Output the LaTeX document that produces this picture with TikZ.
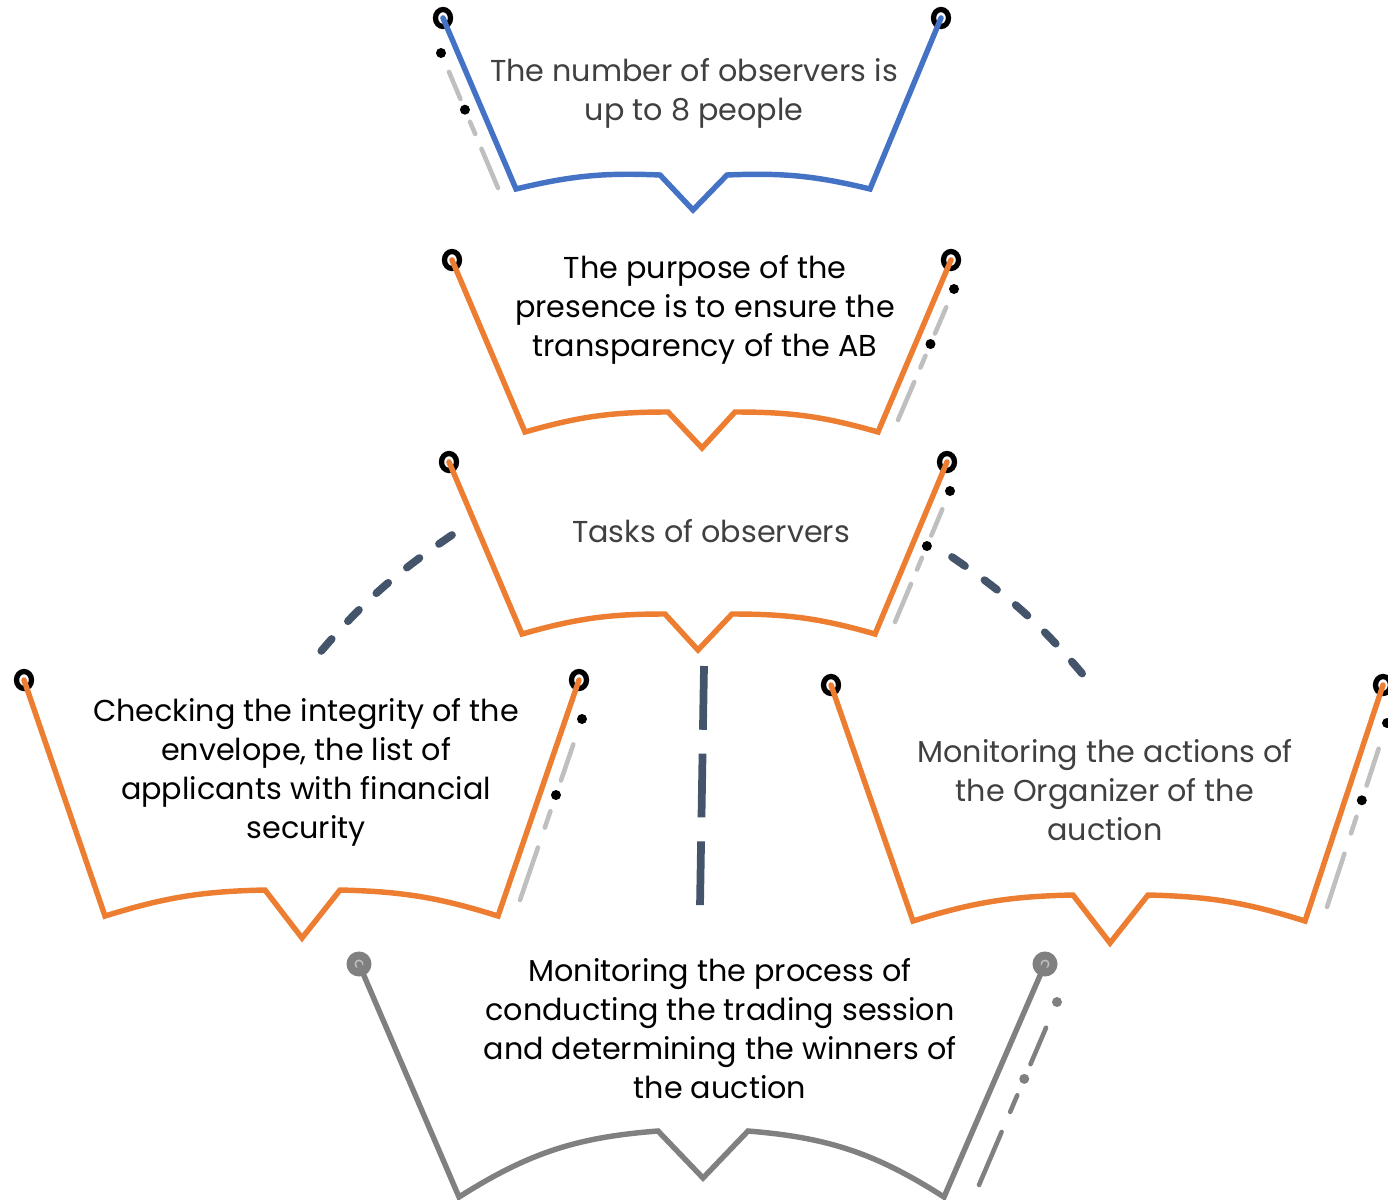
\documentclass[tikz,border=0pt]{standalone}
\usepackage{fontspec}
\setmainfont{Poppins}
\usetikzlibrary{calc}

\definecolor{bluebox}{HTML}{4472C4}
\definecolor{orangebox}{HTML}{ED7D31}
\definecolor{graybox}{HTML}{808080}
\definecolor{markgray}{HTML}{BFBFBF}
\definecolor{slate}{HTML}{44546A}
\definecolor{darktext}{HTML}{404040}

% dot, dash, dot, short dash, long dash beside one side of a box
\newcommand{\sidemarks}[4]{%
  \fill[#3] (#1) circle (5);
  \fill[#3] ($(#1)!0.42!(#2)$) circle (5);
  \draw[marks,#4] ($(#1)!0.14!(#2)$) -- ($(#1)!0.34!(#2)$);
  \draw[marks,#4] ($(#1)!0.51!(#2)$) -- ($(#1)!0.60!(#2)$);
  \draw[marks,#4] ($(#1)!0.71!(#2)$) -- (#2);
}

\begin{document}
\begin{tikzpicture}[
  x=0.02cm,y=-0.02cm,
  line/.style={line width=3.1pt,line cap=round},
  ring/.style={line width=3pt,draw=black,fill=white},
  marks/.style={line width=2.6pt,line cap=round,draw=markgray},
  link/.style={line width=4.4pt,draw=slate,line cap=round,dash pattern=on 9pt off 13.7pt},
  midlink/.style={line width=4.4pt,draw=slate,dash pattern=on 36.3pt off 13.6pt},
  txt/.style={align=center,inner sep=0pt,font=\fontsize{17.2}{22.2}\selectfont}
]
  \useasboundingbox (0,0) rectangle (1388,1199);

  % Box num
  \sidemarks{441,53}{498,188}{black}{}
  \draw[ring] (443,18) ellipse (7.5 and 8.5) (941,18) ellipse (7.5 and 8.5);
  \draw[line,bluebox] (443,18) -- (516,189) to[bend left=8] (660,175) -- (693,210)
    -- (727,175) to[bend left=8] (870,189) -- (941,18);
  \node[txt,text=darktext] (num) at (694,93) {The number of observers is\\up to 8 people};

  % Box aim
  \sidemarks{954,289}{898,420}{black}{}
  \draw[ring] (452,260) ellipse (7.5 and 8.5) (951,260) ellipse (7.5 and 8.5);
  \draw[line,orangebox] (452,260) -- (525,432) to[bend left=8] (668,412) -- (702,448)
    -- (735,412) to[bend left=8] (878,432) -- (951,260);
  \node[txt] (aim) at (705,310) {The purpose of the\\presence is to ensure the\\transparency of the AB};

  % Box tasks
  \sidemarks{950,491}{895,622}{black}{}
  \draw[ring] (449,462) ellipse (7.5 and 8.5) (947,462) ellipse (7.5 and 8.5);
  \draw[line,orangebox] (449,462) -- (522,634) to[bend left=8] (665,614) -- (698,650)
    -- (732,614) to[bend left=8] (875,634) -- (947,462);
  \node[txt,text=darktext] (tasks) at (711,531) {Tasks of observers};

  % Box chk
  \sidemarks{582,719}{520,900}{black}{}
  \draw[ring] (24,680) ellipse (7.5 and 8.5) (579,680) ellipse (7.5 and 8.5);
  \draw[line,orangebox] (24,680) -- (105,916) to[bend left=8] (265,890) -- (302,938)
    -- (340,890) to[bend left=8] (498,916) -- (579,680);
  \node[txt] (chk) at (306,772) {Checking the integrity of the\\envelope, the list of\\applicants with financial\\security};

  % Box act
  \sidemarks{1387,723}{1327,907}{black}{}
  \draw[ring] (831,685) ellipse (7.5 and 8.5) (1383,685) ellipse (7.5 and 8.5);
  \draw[line,orangebox] (831,685) -- (913,921) to[bend left=8] (1073,895) -- (1110,943)
    -- (1148,895) to[bend left=8] (1305,921) -- (1383,685);
  \node[txt,text=darktext] (act) at (1105,790) {Monitoring the actions of\\the Organizer of the\\auction};

  % Box proc
  \sidemarks{1057,1002}{979,1185}{graybox}{graybox}
  \draw[ring,draw=graybox,fill=markgray,line width=4.5pt] (359,964) circle (8.5) (1045,964) circle (8.5);
  \draw[line,graybox] (359,964) -- (459,1197) to[bend left=14] (658,1131) -- (703,1178)
    -- (748,1131) to[bend left=14] (944,1197) -- (1045,964);
  \node[txt] (proc) at (720,1029) {Monitoring the process of\\conducting the trading session\\and determining the winners of\\the auction};

  % links from tasks
  \coordinate (tasksL) at (452,535);
  \coordinate (tasksM) at (704,666);
  \coordinate (tasksR) at (952,557);
  \coordinate (chkT) at (312,662);
  \coordinate (procT) at (700,906);
  \coordinate (actT) at (1090,683);
  \draw[link] (tasksL) to[bend right=8] (chkT);
  \draw[link] (tasksR) to[bend left=8] (actT);
  \draw[midlink] (tasksM) -- (procT);
\end{tikzpicture}
\end{document}
